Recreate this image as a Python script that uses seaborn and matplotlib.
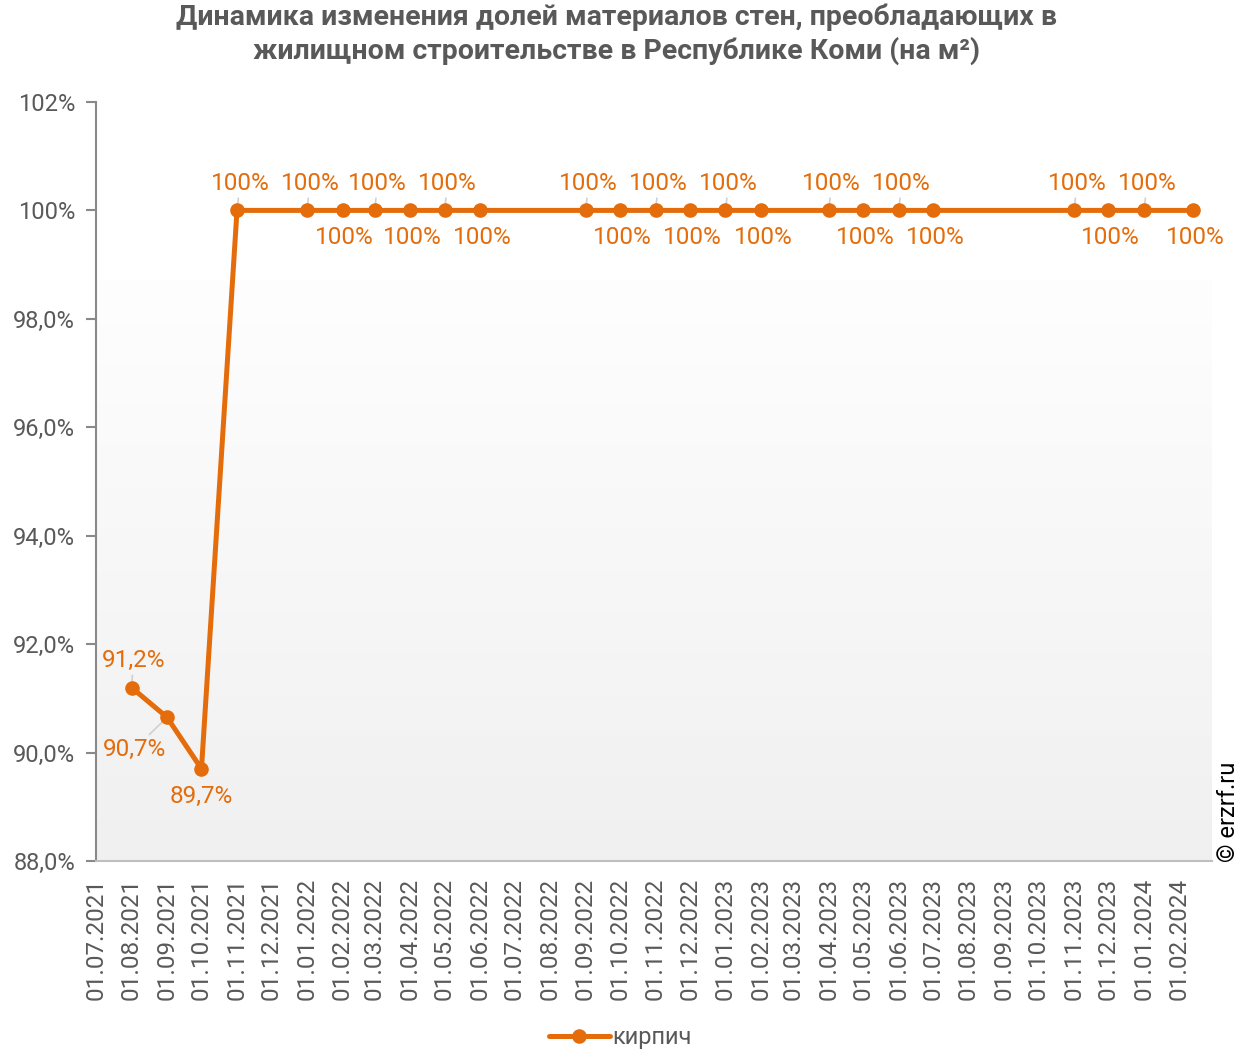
import matplotlib.dates as mdates
import matplotlib.pyplot as plt
import numpy as np
import pandas as pd
import seaborn as sns

# data
dates = ['01.08.2021', '01.09.2021', '01.10.2021', '01.11.2021',
         '01.01.2022', '01.02.2022', '01.03.2022', '01.04.2022',
         '01.05.2022', '01.06.2022', '01.09.2022', '01.10.2022',
         '01.11.2022', '01.12.2022', '01.01.2023', '01.02.2023',
         '01.04.2023', '01.05.2023', '01.06.2023', '01.07.2023',
         '01.11.2023', '01.12.2023', '01.01.2024', '13.02.2024']
brick = [91.2, 90.65, 89.7, 100, 100, 100, 100, 100, 100, 100, 100, 100,
         100, 100, 100, 100, 100, 100, 100, 100, 100, 100, 100, 100]
value_labels = ['91,2%', '90,7%', '89,7%'] + ['100%'] * 21
yticks = [88, 90, 92, 94, 96, 98, 100, 102]
ytick_labels = ['88,0%', '90,0%', '92,0%', '94,0%', '96,0%', '98,0%', '100%', '102%']
series_name = 'кирпич'
title = ('Динамика изменения долей материалов стен, преобладающих в\n'
         'жилищном строительстве в Республике Коми (на м²)')

ORANGE = '#E46C0A'
GREY = '#595959'

sns.set_theme(style='white')
plt.rcParams['font.family'] = ['Roboto', 'DejaVu Sans']

df = pd.DataFrame({'date': pd.to_datetime(dates, format='%d.%m.%Y'),
                   'share': brick, 'series': series_name})

fig = plt.figure(figsize=(12.48, 10.49), dpi=100)
ax = fig.add_axes([0.0769, 0.1792, 0.894, 0.7236])

x0 = pd.Timestamp('2021-07-01')
x1 = pd.Timestamp('2024-02-29')

# soft grey gradient in the plot area
grad = np.linspace(0, 1, 256).reshape(-1, 1)
cmap = sns.blend_palette(['#f0f0f0', '#fefefe'], as_cmap=True)
ax.imshow(grad, cmap=cmap, aspect='auto', origin='lower', zorder=0,
          extent=[mdates.date2num(x0), mdates.date2num(x1), 88, 98.7])

sns.lineplot(data=df, x='date', y='share', hue='series', palette=[ORANGE],
             marker='o', markersize=10.5, markeredgewidth=0, linewidth=3.6,
             ax=ax, zorder=4)

ax.set_xlim(x0, x1)
ax.set_ylim(88, 102)
ax.set_yticks(yticks)
ax.set_yticklabels(ytick_labels)
ax.xaxis.set_major_locator(mdates.MonthLocator())
ax.xaxis.set_major_formatter(mdates.DateFormatter('%d.%m.%Y'))
ax.tick_params(axis='x', rotation=90, labelsize=17.5, labelcolor=GREY,
               colors='#bfbfbf', length=7, width=1.5, pad=5, labelbottom=True)
ax.tick_params(axis='y', labelsize=17, labelcolor=GREY, colors='#898989',
               length=7, width=1.5, pad=8, left=True)
for lbl in ax.get_xticklabels():
    lbl.set_color(GREY)
ax.set_xlabel('')
ax.set_ylabel('')
for side in ['top', 'right']:
    ax.spines[side].set_visible(False)
ax.spines['left'].set_color('#898989')
ax.spines['left'].set_linewidth(1.5)
ax.spines['bottom'].set_color('#bfbfbf')
ax.spines['bottom'].set_linewidth(1.5)

# data labels
leader = dict(arrowstyle='-', color='#d0d0d0', lw=1.2, shrinkA=0, shrinkB=0)
for i, (d, v, s) in enumerate(zip(df['date'], brick, value_labels)):
    if i == 0:
        off, arrow = (2, 27), leader
    elif i == 1:
        off, arrow = (-33, -32), leader
    elif i == 2:
        off, arrow = (0, -28), None
    elif i == 3 or (i >= 4 and i % 2 == 0):
        off, arrow = (3, 27), leader
    else:
        off, arrow = (2, -27), None
    ax.annotate(s, (d, v), xytext=off, textcoords='offset pixels',
                ha='center', va='center', fontsize=17.5, color=ORANGE,
                arrowprops=arrow, zorder=3)

ax.legend_.remove()
handles, labels = ax.get_legend_handles_labels()
fig.legend(handles, labels, loc='center', bbox_to_anchor=(0.497, 0.011),
           frameon=False, fontsize=17, labelcolor=GREY, handlelength=2.6,
           handletextpad=0.1, borderaxespad=0)

fig.suptitle(title, x=0.494, y=0.997, fontsize=20.5, fontweight='bold',
             color=GREY, linespacing=1.3)
fig.text(0.984, 0.178, '© erzrf.ru', rotation=90, ha='center', va='bottom',
         fontsize=17, color='black')

fig.savefig('out.png', dpi=100)
